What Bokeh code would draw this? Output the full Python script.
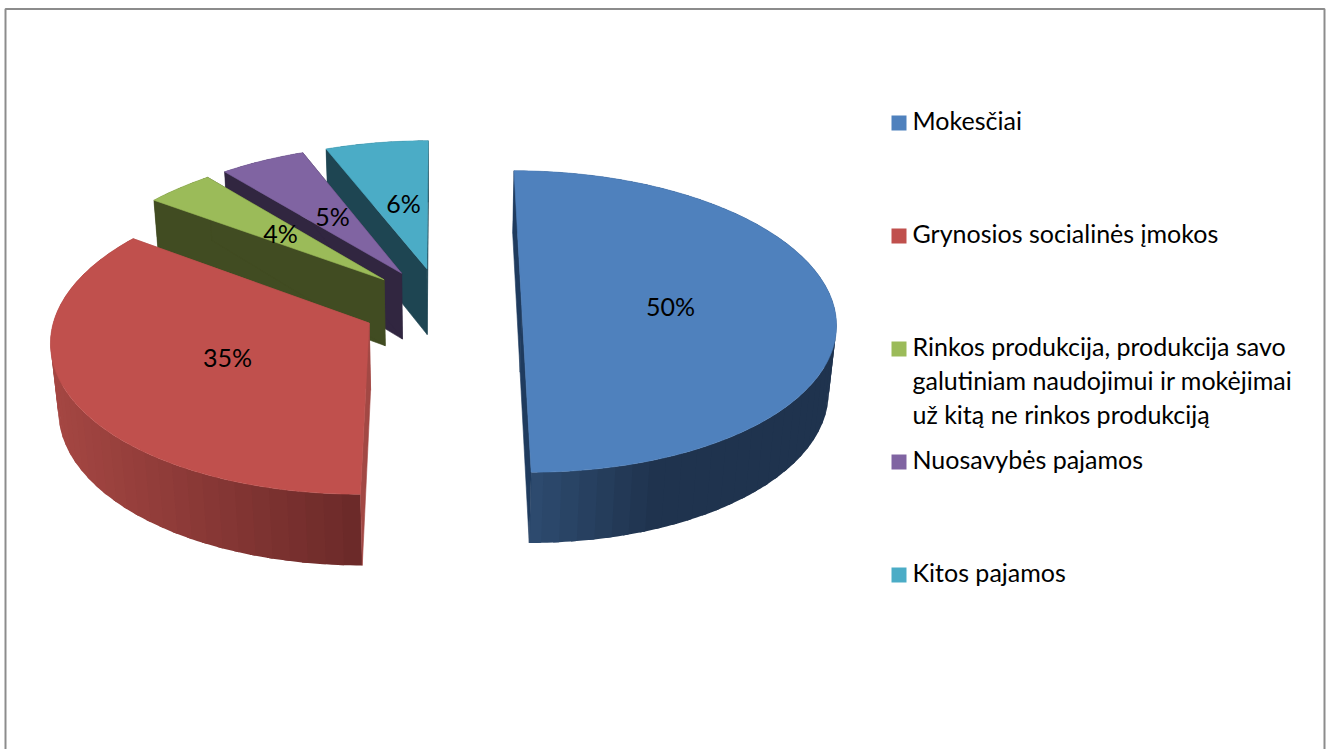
import numpy as np
from bokeh.core.properties import value
from bokeh.embed import file_html
from bokeh.models import Range1d
from bokeh.plotting import figure
from bokeh.resources import INLINE

# Shares of income, in percent
categories = [
    "Mokesčiai",
    "Grynosios socialinės įmokos",
    "Rinkos produkcija, produkcija savo\ngalutiniam naudojimui ir mokėjimai\nuž kitą ne rinkos produkciją",
    "Nuosavybės pajamos",
    "Kitos pajamos",
]
shares = [50, 35, 4, 5, 6]

top_colors = ["#4F81BD", "#C0504D", "#9BBB59", "#8064A2", "#4BACC6"]
cut_colors = ["#1F3B5E", "#A24844", "#414C22", "#312640", "#1E4552"]
wall_near = ["#2E4C70", "#6A2928", "#414C22", "#312640", "#1E4552"]
wall_far = ["#1F334E", "#A44642", "#414C22", "#312640", "#1E4552"]
wall_span = [125, 305, 1, 1, 1]

label_xy = [(670, 305), (227, 356), (280, 232), (332, 215), (403, 202)]

# Projection of the tilted disc onto the page, in pixels
CX, CY = 441, 305
AX, AY = 312, 149
PERSP = 0.106
EXPLODE = 0.257
THICK, THICK_PERSP = 68, 0.02


def project(x, y, lower=False):
    w = 1 + PERSP * y + (THICK_PERSP if lower else 0)
    drop = THICK if lower else 0
    return CX + AX * x / w, CY + (drop - AY * y) / w


def hex_mix(a, b, t):
    ca = [int(a[i:i + 2], 16) for i in (1, 3, 5)]
    cb = [int(b[i:i + 2], 16) for i in (1, 3, 5)]
    return "#%02X%02X%02X" % tuple(round(u + (v - u) * t) for u, v in zip(ca, cb))


p = figure(
    width=1331, height=749, output_backend="svg", toolbar_location=None,
    x_range=Range1d(0, 1331), y_range=Range1d(749, 0),
    x_axis_location=None, y_axis_location=None, min_border=0,
    outline_line_color=None, background_fill_color="white", border_fill_color="white",
)
p.grid.visible = False

# Chart frame, open at the bottom of the page
p.line([5, 5, 1324, 1324], [749, 8.5, 8.5, 749], line_color="#8C8C8C", line_width=2)

# Slice angles, clockwise from the back of the disc
edges = np.radians(np.cumsum([0] + shares) / sum(shares) * 360)


def draw_slice(i):
    t0, t1 = edges[i], edges[i + 1]
    mid = (t0 + t1) / 2
    ax, ay = EXPLODE * np.sin(mid), EXPLODE * np.cos(mid)
    th = np.linspace(t0, t1, max(8, int(np.degrees(t1 - t0))))
    ox, oy = ax + np.sin(th), ay + np.cos(th)
    tx, ty = project(ox, oy)
    bx, by = project(ox, oy, lower=True)

    # Rim, shaded in bands running away from the front edge; each band
    # overlaps the next so no seam shows between them
    x_near = bx[-1] if i == 0 else bx[0]
    step = 3
    last = len(th) - 1
    for k in range(0, last, step):
        b = min(k + step + 1, last)
        f = min(abs((tx[k] + tx[min(k + step, last)]) / 2 - x_near) / wall_span[i], 1)
        fill = hex_mix(wall_near[i], wall_far[i], f)
        p.patch([*tx[k:b + 1], *bx[k:b + 1][::-1]], [*ty[k:b + 1], *by[k:b + 1][::-1]],
                fill_color=fill, line_color=None)

    # Cut faces from the apex out to the rim
    atx, aty = project(ax, ay)
    abx, aby = project(ax, ay, lower=True)
    for k in (0, -1):
        p.patch([atx, tx[k], bx[k], abx], [aty, ty[k], by[k], aby],
                fill_color=cut_colors[i], line_color=cut_colors[i], line_width=0.6)

    # Top face
    p.patch([atx, *tx], [aty, *ty], fill_color=top_colors[i],
            line_color=top_colors[i], line_width=0.6)


# Painted from the back of the disc forwards
for i in (4, 3, 2, 1, 0):
    draw_slice(i)

FONT = value("Lato")
SIZE = "25px"

p.text([c[0] for c in label_xy], [c[1] for c in label_xy],
       text=[f"{v}%" for v in shares], text_font=FONT, text_font_size=SIZE,
       text_color="#000000", text_align="center", text_baseline="middle")

# Legend column
LEG_TOP, LEG_STEP, LEG_SWATCH = 115, 113, 15
for i, (name, col) in enumerate(zip(categories, top_colors)):
    y0 = LEG_TOP + i * LEG_STEP
    p.quad(left=[891], right=[891 + LEG_SWATCH], top=[y0], bottom=[y0 + LEG_SWATCH],
           fill_color=col, line_color=None)
    for j, line in enumerate(name.split("\n")):
        p.text([912], [y0 + 4 + j * 34], text=[line], text_font=FONT, text_font_size=SIZE,
               text_color="#000000", text_align="left", text_baseline="middle")

open("out.html", "w").write(file_html(p, INLINE))
